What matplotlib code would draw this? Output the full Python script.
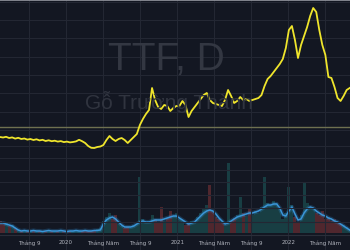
import matplotlib
matplotlib.use('Agg')
import matplotlib.pyplot as plt
import matplotlib.transforms as mtransforms
import pandas as pd

# 10-day samples of the TTF daily chart
dates = pd.date_range('2019-05-29', periods=116, freq='10D')

price = [11.30, 11.25, 11.32, 11.20, 11.26, 11.14, 11.22, 11.10, 11.15, 11.04,
         11.10, 11.00, 11.07, 10.96, 11.02, 10.90, 10.97, 10.88, 10.93, 10.84,
         10.89, 10.79, 10.84, 10.76, 10.80, 10.86, 11.02, 10.88, 10.70, 10.40,
         10.22, 10.20, 10.30, 10.35, 10.50, 11.00, 11.40, 11.10, 10.90, 11.10,
         11.20, 11.00, 10.70, 11.00, 11.30, 11.60, 12.50, 13.10, 13.60, 14.00,
         16.20, 15.00, 14.30, 14.10, 14.50, 14.40, 13.90, 14.20, 14.40, 14.40,
         14.90, 14.50, 13.30, 13.90, 14.30, 14.70, 15.10, 15.50, 15.70, 15.00,
         14.70, 14.60, 14.50, 14.40, 15.00, 16.00, 15.40, 14.70, 14.90, 15.30,
         15.00, 15.10, 14.90, 15.00, 15.10, 15.20, 15.50, 16.40, 17.10, 17.40,
         17.80, 18.20, 18.60, 19.10, 20.20, 22.00, 22.40, 21.00, 19.20, 20.50,
         21.40, 22.30, 23.40, 24.20, 23.80, 22.00, 20.50, 19.50, 17.30, 17.20,
         16.30, 15.20, 14.90, 15.40, 16.00, 16.20]

volume = [12, 9, 11, 7, 8, 5, 3,
          2, 3, 2, 2, 3, 2, 2, 1, 2, 3, 2, 2, 2, 3, 2, 1, 2, 2, 3, 2, 2, 3, 2, 2, 3, 4,
          5, 12, 16, 20, 14, 18, 9, 7, 5, 6, 5, 8, 9,
          56, 14, 10, 12, 18, 14, 11, 26, 12, 15, 22, 17, 20, 14, 13, 8, 9, 12, 10, 16,
          20, 24, 28, 48, 22, 16, 14, 10, 8, 70, 12, 15, 18, 36, 20, 17, 24, 18, 22, 20,
          26, 56, 30, 28, 32, 30, 24, 14, 20, 46, 28, 16, 10, 18, 50, 30, 26, 24, 20, 18,
          22, 14, 16, 12, 14, 10, 9, 8, 6, 4]

vol_ma = [10, 10, 9, 8, 7, 5, 3,
          2, 2.5, 2, 2, 2.5, 2, 2, 1.5, 2, 2.5, 2, 2, 2, 2.5, 2, 1.5, 2, 2, 2.5, 2, 2, 2.5, 2, 2, 2.5, 2.5,
          3, 9, 13, 15, 16, 14, 11, 8, 6, 6, 6, 7, 9,
          11, 12, 11, 11, 12, 13, 13, 13, 14, 15, 16, 17, 17, 15, 13, 11, 9, 10, 11, 14,
          17, 20, 22, 23, 22, 19, 15, 12, 9, 10, 12, 14, 16, 17, 18, 19, 20, 20, 21, 22,
          24, 26, 28, 28, 29, 29, 25, 18, 17, 22, 26, 19, 13, 14, 20, 24, 26, 25, 22, 20,
          18, 17, 15, 14, 12, 11, 9, 7, 5, 3]

last_price = 12.3
grid_levels = [24.8, 23.0, 21.2, 19.3, 17.5, 15.7, 13.8, 12.0, 10.4, 9.2, 8.0, 6.8, 5.5, 4.2, 2.8]

tick_dates = pd.to_datetime(['2019-09-01', '2020-01-01', '2020-05-01', '2020-09-01', '2021-01-01',
                             '2021-05-01', '2021-09-01', '2022-01-01', '2022-05-01'])
tick_labels = ['Tháng 9', '2020', 'Tháng Năm', 'Tháng 9', '2021',
               'Tháng Năm', 'Tháng 9', '2022', 'Tháng Năm']

bg = '#131722'
gridc = '#232733'

fig = plt.figure(figsize=(3.5, 2.5), dpi=100, facecolor=bg)
ax = fig.add_axes([0, 0, 1, 1])
for s in ax.spines.values():
    s.set_visible(False)

# watermark
fig.text(0.474, 0.76, 'TTF, D', ha='center', va='center', fontsize=28,
         color='#333742', family='Liberation Sans')
fig.text(0.483, 0.592, 'Gỗ Trường Thành', ha='center', va='center', fontsize=15,
         color='#30343f', family='Liberation Sans')

for lv in grid_levels:
    ax.axhline(lv, color=gridc, lw=0.8, zorder=1)
for d in tick_dates:
    ax.axvline(d, color=gridc, lw=0.8, zorder=1)

# volume pane shares the x axis
vax = ax.twinx()
vax.set_ylim(-17, 233)
vax.axis('off')
colors = ['#26a69a' if i > 0 and price[i] >= price[i - 1] else '#ef5350'
          for i in range(len(price))]
vax.bar(dates, volume, width=10, color=colors, alpha=0.28, linewidth=0, zorder=2)
vax.plot(dates, vol_ma, color='#2f8fd8', lw=3, alpha=0.25, zorder=3)
vax.plot(dates, vol_ma, color='#3a95d8', lw=1.1, zorder=3)

ax.axhline(last_price, color='#6e7050', lw=1.0, zorder=3)
ax.plot(dates, price, color='#efe52c', lw=1.3, zorder=5)
ax.set_zorder(vax.get_zorder() + 1)
ax.patch.set_visible(False)
vax.patch.set_visible(False)

ax.set_ylim(0, 25)
ax.set_xlim(pd.Timestamp('2019-05-29'), pd.Timestamp('2022-07-23'))
ax.set_xticks([])
ax.set_yticks([])

# time scale strip
ax.axhline(1.5, color='#2a2e39', lw=0.8, zorder=6)
trans = mtransforms.blended_transform_factory(ax.transData, ax.transAxes)
for d, lab in zip(tick_dates, tick_labels):
    ax.text(d, 0.028, lab, transform=trans, ha='center', va='center',
            fontsize=4, color='#b2b5be', zorder=7)
ax.axhline(25, color='#9598a1', lw=1.2, zorder=7)

fig.savefig('out.png', dpi=100, facecolor=bg)
